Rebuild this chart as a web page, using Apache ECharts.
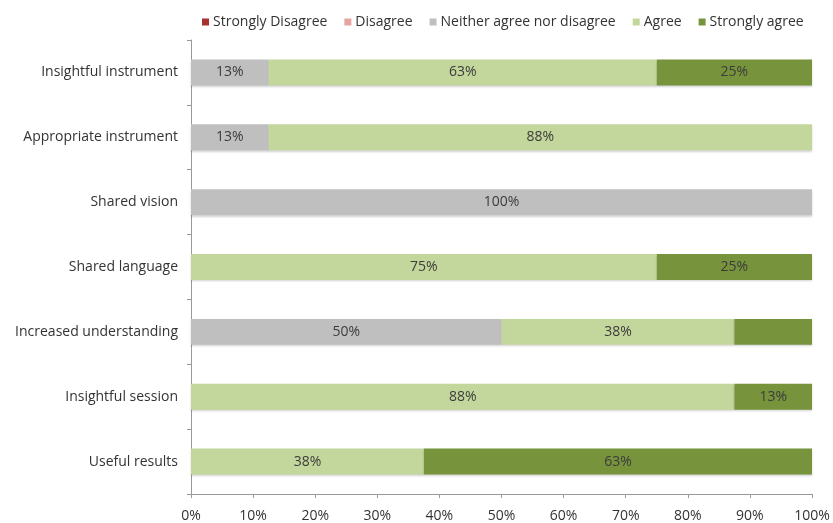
<!DOCTYPE html>
<html><head><meta charset="utf-8">
<script src="https://cdn.jsdelivr.net/npm/echarts@6/dist/echarts.min.js"></script>
<style>html,body{margin:0;padding:0;background:#fff}#c{width:833px;height:523px}</style>
</head><body><div id="c"></div>
<script>
var categories = ["Insightful instrument","Appropriate instrument","Shared vision","Shared language","Increased understanding","Insightful session","Useful results"];
var seriesNames = ["Strongly Disagree","Disagree","Neither agree nor disagree","Agree","Strongly agree"];
var stronglyDisagree = [0,0,0,0,0,0,0];
var disagree = [0,0,0,0,0,0,0];
var neither = [12.5,12.5,100,0,50,0,0];
var agree = [62.5,87.5,0,75,37.5,87.5,37.5];
var stronglyAgree = [25,0,0,25,12.5,12.5,62.5];
var hiddenLabels = {"Strongly agree":[4]};
var colors = ["#A9312F","#E6A3A1","#BFBFBF","#C3D69B","#77933C"];

var dataSets = [stronglyDisagree, disagree, neither, agree, stronglyAgree];
var series = seriesNames.map(function(n,i){
  return {
    name:n, type:'bar', stack:'all', barWidth:'40%',
    itemStyle:{color:colors[i], shadowColor:'rgba(0,0,0,0.18)', shadowBlur:2, shadowOffsetY:1.5},
    label:{show:true, position:'inside', color:'#3c3c3c', fontSize:14, fontFamily:'Open Sans, sans-serif',
      formatter:function(p){ if(!p.value) return ''; var h=hiddenLabels[n]; if(h && h.indexOf(p.dataIndex)>=0) return ''; return Math.round(p.value)+'%'; }},
    data: dataSets[i].map(function(v){ return v===0? null : v; })
  };
});

var chart = echarts.init(document.getElementById('c'));
chart.setOption({
  animation:false,
  color:colors,
  legend:{top:10, left:197, itemWidth:7, itemHeight:7, itemGap:17, icon:'rect',
    textStyle:{fontSize:14, color:'#333', fontFamily:'Open Sans, sans-serif', padding:[0,0,0,-1]},
    data:seriesNames},
  grid:{left:191, right:21, top:40, bottom:28, containLabel:false},
  xAxis:{type:'value', min:0, max:100, interval:10,
    axisLine:{show:true, lineStyle:{color:'#999'}}, axisTick:{show:true, length:4, lineStyle:{color:'#999'}},
    splitLine:{show:false},
    axisLabel:{formatter:'{value}%', color:'#333', fontSize:14, fontFamily:'Open Sans, sans-serif', margin:15}},
  yAxis:{type:'category', data:categories, inverse:true,
    axisLine:{show:true, lineStyle:{color:'#999'}}, axisTick:{show:true, length:4, lineStyle:{color:'#999'}},
    axisLabel:{color:'#333', fontSize:14, fontFamily:'Open Sans, sans-serif', margin:13}},
  series:series
});
</script></body></html>
